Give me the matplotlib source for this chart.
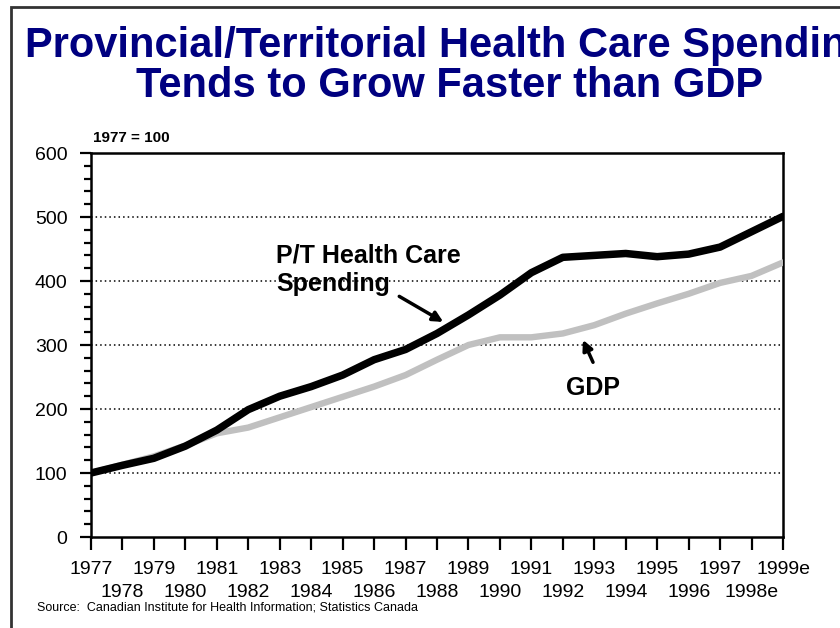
import matplotlib
matplotlib.use("Agg")
import matplotlib.pyplot as plt
from matplotlib.patches import Rectangle
from matplotlib.ticker import MultipleLocator

plt.rcParams['font.family'] = ['Liberation Sans', 'DejaVu Sans']

# ---- data (1977 = 100) ----
years = list(range(1977, 2000))
year_labels = [str(y) for y in years[:-2]] + ["1998e", "1999e"]
pt_health = [100, 112, 123, 142, 167, 199, 220, 235, 253, 277, 293, 318,
             347, 378, 413, 437, 440, 443, 438, 442, 453, 477, 501]
gdp = [100, 113, 126, 143, 162, 171, 187, 203, 219, 235, 253, 277,
       300, 312, 312, 318, 331, 349, 365, 380, 397, 408, 429]

fig = plt.figure(figsize=(8.4, 6.28), dpi=100)

# slide frame (only left and top edges fall inside the picture)
fig.patches.append(Rectangle((11 / 840, -0.2), 1.2, 1.2 - 7 / 628,
                             transform=fig.transFigure, fill=False,
                             edgecolor="#333333", linewidth=2))

ax = fig.add_axes([91 / 840, 1 - 537 / 628, 692 / 840, 384 / 628])

ax.plot(years, gdp, color="#c0c0c0", linewidth=4.6, solid_capstyle="round",
        solid_joinstyle="round", zorder=3)
ax.plot(years, pt_health, color="black", linewidth=5.4, solid_capstyle="round",
        solid_joinstyle="round", zorder=4)

ax.set_xlim(1977, 1999)
ax.set_ylim(0, 600)
ax.set_yticks(range(0, 601, 100))
ax.yaxis.set_minor_locator(MultipleLocator(20))

# odd years on the first row, even years on a second row
ax.set_xticks(years[0::2])
ax.set_xticklabels(year_labels[0::2])
ax.set_xticks(years[1::2], minor=True)
ax.set_xticklabels(year_labels[1::2], minor=True)

ax.tick_params(axis="both", which="both", direction="out", width=1.6,
               labelsize=14, color="black")
ax.tick_params(axis="y", which="major", length=8, pad=9)
ax.tick_params(axis="y", which="minor", length=5)
ax.tick_params(axis="x", which="major", length=9, pad=8)
ax.tick_params(axis="x", which="minor", length=9, pad=25)
for s in ax.spines.values():
    s.set_linewidth(1.8)

for v in range(100, 600, 100):
    ax.axhline(v, color="black", linestyle=(0, (1, 2)), linewidth=1.1, zorder=1)

ax.text(1982.88, 458, "P/T Health Care\nSpending", fontsize=18,
        fontweight="bold", ha="left", va="top", linespacing=1.2)
ax.annotate("", xy=(1988.2, 336), xytext=(1986.8, 376),
            arrowprops=dict(arrowstyle="-|>,head_length=0.6,head_width=0.3",
                            color="black", lw=2.5, shrinkA=0, shrinkB=0))
ax.text(1992.1, 222, "GDP", fontsize=18, fontweight="bold", ha="left",
        va="baseline")
ax.annotate("", xy=(1992.64, 308), xytext=(1992.96, 273),
            arrowprops=dict(arrowstyle="-|>,head_length=0.6,head_width=0.3",
                            color="black", lw=2.5, shrinkA=0, shrinkB=0))

fig.text(449 / 840, 1 - 66 / 628,
         "Provincial/Territorial Health Care Spending\nTends to Grow Faster than GDP",
         fontsize=30, fontweight="bold", color="#000080", ha="center",
         va="center", linespacing=1.03)
fig.text(93 / 840, 1 - 138 / 628, "1977 = 100", fontsize=11,
         fontweight="bold", ha="left", va="center")
fig.text(37 / 840, 1 - 607 / 628,
         "Source:  Canadian Institute for Health Information; Statistics Canada",
         fontsize=9, ha="left", va="center")

fig.savefig("out.png", dpi=100)
